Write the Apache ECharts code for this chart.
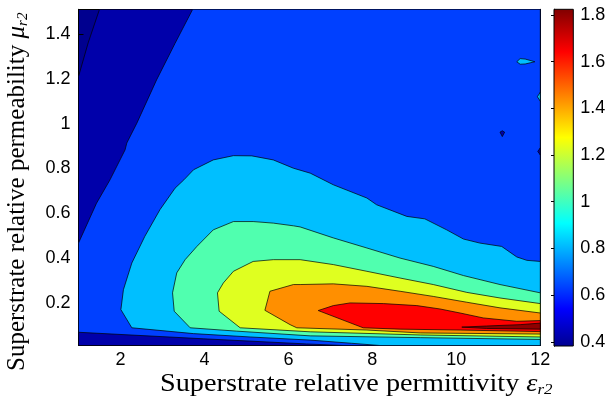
<!DOCTYPE html>
<html>
<head>
<meta charset="utf-8">
<script src="https://cdn.jsdelivr.net/npm/echarts@6/dist/echarts.min.js"></script>
<style>
html, body { margin: 0; padding: 0; background: #fff; }
#chart { width: 614px; height: 406px; }
</style>
</head>
<body>
<div id="chart"></div>
<script>
// axis ticks
var xTicks = [2, 4, 6, 8, 10, 12];
var yTicks = [0.2, 0.4, 0.6, 0.8, 1, 1.2, 1.4];
var barTicks = [0.4, 0.6, 0.8, 1, 1.2, 1.4, 1.6, 1.8];
var barRange = [0.382, 1.824];

// contour levels
var levels = [0.4, 0.6, 0.8, 1.0, 1.2, 1.4, 1.6, 1.8];

// regions where value >= level as [eps, mu]
var region04 = [[1, 0.01], [12, 0.01], [12, 1.51], [1.50, 1.51], [1.23, 1.36], [1, 1.21]];
var region06 = [[1, 0.467], [1.43, 0.645], [1.75, 0.749], [2.11, 0.883], [2.15, 0.913], [2.39, 1.002],
    [2.86, 1.195], [3.30, 1.358], [3.72, 1.51], [12, 1.51], [12, 0.01], [7.3, 0.01], [6.43, 0.017],
    [3.97, 0.04], [1, 0.069]];
var region08 = [[12, 0.385], [11.68, 0.39], [11.44, 0.405], [11.08, 0.452], [10.56, 0.467], [10.17, 0.485],
    [9.77, 0.526], [9.25, 0.575], [8.82, 0.586], [8.10, 0.638], [7.87, 0.668], [7.07, 0.727], [6.52, 0.779],
    [6.12, 0.801], [5.64, 0.838], [5.13, 0.856], [4.69, 0.857], [4.21, 0.838], [3.74, 0.794], [3.51, 0.749],
    [3.30, 0.712], [2.94, 0.616], [2.58, 0.497], [2.27, 0.378], [2.07, 0.259], [2.01, 0.17], [2.27, 0.089],
    [3.74, 0.063], [5.09, 0.048], [6.52, 0.034], [7.5, 0.02], [8.18, 0.01], [12, 0.01]];
var region10 = [[12, 0.245], [11.04, 0.282], [10.17, 0.322], [9.45, 0.363], [8.66, 0.40], [7.87, 0.445],
    [7.07, 0.49], [6.28, 0.539], [6.12, 0.544], [5.64, 0.556], [5.16, 0.563], [4.69, 0.563], [4.21, 0.526],
    [3.82, 0.452], [3.54, 0.393], [3.34, 0.334], [3.24, 0.245], [3.28, 0.163], [3.66, 0.089], [4.77, 0.074],
    [6.52, 0.053], [9.14, 0.045], [12, 0.037]];
var region12 = [[12, 0.197], [11.04, 0.222], [10.25, 0.247], [9.45, 0.282], [8.66, 0.311], [7.87, 0.341],
    [7.07, 0.371], [6.28, 0.393], [5.64, 0.393], [5.16, 0.385], [4.69, 0.341], [4.45, 0.289], [4.31, 0.245],
    [4.35, 0.163], [4.85, 0.089], [6.52, 0.071], [9.14, 0.057], [12, 0.048]];
var region14 = [[12, 0.155], [11.04, 0.178], [10.25, 0.203], [9.45, 0.229], [8.66, 0.252], [7.87, 0.274],
    [7.07, 0.285], [6.28, 0.282], [6.12, 0.282], [5.56, 0.252], [5.44, 0.167], [6.04, 0.103], [6.20, 0.089],
    [7.87, 0.079], [9.14, 0.066], [12, 0.061]];
var region16 = [[6.71, 0.166], [7.07, 0.188], [7.47, 0.20], [8.26, 0.197], [9.06, 0.188], [9.61, 0.173],
    [10.09, 0.155], [10.64, 0.133], [11.44, 0.118], [12, 0.121], [12, 0.072], [10.09, 0.079], [8.66, 0.083],
    [7.78, 0.089]];
var region18 = [[10.13, 0.092], [10.72, 0.097], [11.52, 0.103], [12, 0.11], [12, 0.083], [10.72, 0.086]];
var regions = [region04, region06, region08, region10, region12, region14, region16, region18];

// small islands, with the level of the band they belong to
var islandLevels = [0.8, 0.8, 0.4, 0.4];
var islandPoints = [
    [[11.44, 1.276], [11.52, 1.29], [11.64, 1.288], [11.87, 1.276], [11.64, 1.266], [11.52, 1.265]],
    [[12, 1.14], [11.93, 1.12], [12, 1.10]],
    [[11.04, 0.962], [11.095, 0.968], [11.15, 0.962], [11.095, 0.942]],
    [[12, 0.892], [11.94, 0.876], [12, 0.86]]
];

// band colours (jet)
var belowColor = '#00008f';
var bandColors = ['#0000aa', '#0040ff', '#00bfff', '#50ffaf', '#dfff20', '#ff8f00', '#ff0000', '#8f0000'];
var jetStops = [
    { offset: 0, color: '#00008f' },
    { offset: 0.111, color: '#0000ff' },
    { offset: 0.365, color: '#00ffff' },
    { offset: 0.619, color: '#ffff00' },
    { offset: 0.873, color: '#ff0000' },
    { offset: 1, color: '#800000' }
];

var axisFont = '"Liberation Sans", Arial, sans-serif';
var titleFont = '"Liberation Serif", "Times New Roman", serif';

var shapes = [];
for (var i = 0; i < levels.length; i++) {
    shapes.push({ level: levels[i], points: regions[i] });
}
for (var j = 0; j < islandLevels.length; j++) {
    shapes.push({ level: islandLevels[j], points: islandPoints[j] });
}

function contourItem(params, api) {
    var s = shapes[params.dataIndex];
    var pts = s.points.map(function (p) { return api.coord(p); });
    return {
        type: 'polygon',
        shape: { points: pts },
        style: { fill: bandColors[levels.indexOf(s.level)], stroke: '#000', lineWidth: 0.7 }
    };
}

function barItem(params, api) {
    var p0 = api.coord([api.value(0), api.value(3)]);
    var p1 = api.coord([api.value(2), api.value(1)]);
    return {
        type: 'rect',
        shape: { x: p0[0], y: p0[1], width: p1[0] - p0[0], height: p1[1] - p0[1] },
        style: {
            fill: { type: 'linear', x: 0, y: 1, x2: 0, y2: 0, colorStops: jetStops },
            stroke: '#000', lineWidth: 1
        }
    };
}

function tickAxis(extra) {
    var a = {
        type: 'value',
        axisLine: { show: true, lineStyle: { color: '#000', width: 1 } },
        splitLine: { show: false },
        axisTick: { show: true, inside: true, length: 5, lineStyle: { color: '#000', width: 1 } },
        axisLabel: { show: false }
    };
    for (var k in extra) a[k] = extra[k];
    return a;
}

var titleRich = {
    a: { fontFamily: titleFont, fontSize: 25, fill: '#000', lineHeight: 27 },
    e: { fontFamily: titleFont, fontSize: 25, fontStyle: 'italic', fill: '#000', lineHeight: 27 },
    s: { fontFamily: titleFont, fontSize: 15, fontStyle: 'italic', fill: '#000', verticalAlign: 'bottom' }
};

var chart = echarts.init(document.getElementById('chart'));

var option = {
    animation: false,
    grid: [
        { left: 78.5, top: 9.3, right: 73.7, bottom: 60.5, show: true, backgroundColor: belowColor, borderWidth: 0 },
        { left: 554, top: 9.3, width: 19.3, height: 336.7 }
    ],
    xAxis: [
        tickAxis({
            gridIndex: 0, min: 1, max: 12, position: 'bottom',
            axisTick: { show: true, inside: true, length: 5, customValues: xTicks, lineStyle: { color: '#000' } },
            axisLabel: { show: true, customValues: xTicks, color: '#000', fontSize: 18, fontFamily: axisFont, margin: 6 }
        }),
        tickAxis({
            gridIndex: 0, min: 1, max: 12, position: 'top',
            axisTick: { show: true, inside: true, length: 5, customValues: xTicks, lineStyle: { color: '#000' } }
        }),
        { gridIndex: 1, type: 'value', min: 0, max: 1, show: false }
    ],
    yAxis: [
        tickAxis({
            gridIndex: 0, min: 0.01, max: 1.51, position: 'left',
            axisTick: { show: true, inside: true, length: 5, customValues: yTicks, lineStyle: { color: '#000' } },
            axisLabel: { show: true, customValues: yTicks, color: '#000', fontSize: 18, fontFamily: axisFont, margin: 8 }
        }),
        tickAxis({
            gridIndex: 0, min: 0.01, max: 1.51, position: 'right',
            axisTick: { show: true, inside: true, length: 5, customValues: yTicks, lineStyle: { color: '#000' } }
        }),
        tickAxis({
            gridIndex: 1, min: barRange[0], max: barRange[1], position: 'right',
            axisTick: { show: true, inside: true, length: 3, customValues: barTicks, lineStyle: { color: '#000' } },
            axisLabel: { show: true, customValues: barTicks, color: '#000', fontSize: 18, fontFamily: axisFont, margin: 7 }
        }),
        tickAxis({
            gridIndex: 1, min: barRange[0], max: barRange[1], position: 'left',
            axisTick: { show: true, inside: true, length: 3, customValues: barTicks, lineStyle: { color: '#000' } }
        })
    ],
    series: [
        {
            type: 'custom', xAxisIndex: 0, yAxisIndex: 0, clip: true, silent: true,
            data: shapes.map(function (s, i) { return [i, s.level]; }),
            renderItem: contourItem
        },
        {
            type: 'custom', xAxisIndex: 2, yAxisIndex: 2, silent: true,
            data: [[0, barRange[0], 1, barRange[1]]],
            renderItem: barItem
        }
    ],
    graphic: [
        {
            type: 'text', x: 160, y: 384, scaleX: 1.13, silent: true,
            style: {
                text: '{a|Superstrate relative permittivity }{e|ε}{s|r2}',
                align: 'left', verticalAlign: 'middle',
                rich: titleRich
            }
        },
        {
            type: 'text', x: 17.5, y: 371, rotation: Math.PI / 2, silent: true,
            style: {
                text: '{a|Superstrate relative permeability }{e|μ}{s|r2}',
                align: 'left', verticalAlign: 'middle',
                rich: titleRich
            }
        }
    ]
};
chart.setOption(option);
</script>
</body>
</html>
